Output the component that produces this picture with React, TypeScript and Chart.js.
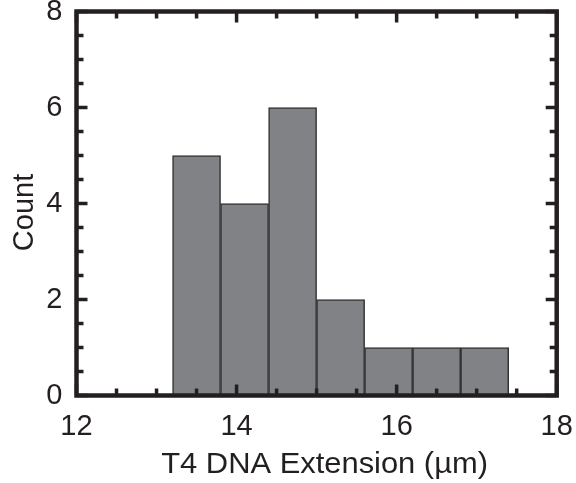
import React, { useEffect, useRef } from "react";
import { Chart, registerables } from "chart.js";

Chart.register(...registerables);

// ---- data ----
const binEdges = [13.2, 13.8, 14.4, 15.0, 15.6, 16.2, 16.8, 17.4];
const counts = [5, 4, 6, 2, 1, 1, 1];
const xTitle = "T4 DNA Extension (µm)";
const yTitle = "Count";
const xMin = 12;
const xMax = 18;
const yMin = 0;
const yMax = 8;
const majorStep = 2;
const minorStep = 0.5;

// ---- style ----
const INK = "#231f20";
const BAR_FILL = "#808285";
const BAR_EDGE = "#333234";
const FONT = "'Liberation Sans', Arial, Helvetica, sans-serif";
const TICK_SIZE = 29;
const TITLE_SIZE = 29;
const TITLE_STRETCH = 1.065;

const framePlugin = {
  id: "frameTicksTitles",
  afterDatasetsDraw(chart: any) {
    const { ctx, chartArea: a, scales } = chart;
    const xs = scales.x;
    const ys = scales.y;
    ctx.save();
    ctx.strokeStyle = INK;
    ctx.lineCap = "butt";
    ctx.lineWidth = 3.5;
    const seg = (x1: number, y1: number, x2: number, y2: number) => {
      ctx.beginPath();
      ctx.moveTo(x1, y1);
      ctx.lineTo(x2, y2);
      ctx.stroke();
    };
    const nx = Math.round((xMax - xMin) / minorStep);
    for (let i = 0; i <= nx; i++) {
      const v = xMin + i * minorStep;
      const major = Math.abs(v / majorStep - Math.round(v / majorStep)) < 1e-6;
      const L = major ? 11 : 7;
      const px = xs.getPixelForValue(v);
      seg(px, a.bottom, px, a.bottom - L);
      seg(px, a.top, px, a.top + L);
    }
    const ny = Math.round((yMax - yMin) / minorStep);
    for (let i = 0; i <= ny; i++) {
      const v = yMin + i * minorStep;
      const major = Math.abs(v / majorStep - Math.round(v / majorStep)) < 1e-6;
      const L = major ? 11 : 7;
      const py = ys.getPixelForValue(v);
      seg(a.left, py, a.left + L, py);
      seg(a.right, py, a.right - L, py);
    }
    ctx.lineWidth = 4.5;
    ctx.strokeRect(a.left, a.top, a.right - a.left, a.bottom - a.top);

    // titles
    ctx.fillStyle = INK;
    ctx.font = `${TITLE_SIZE}px ${FONT}`;
    ctx.textAlign = "center";
    ctx.textBaseline = "alphabetic";
    ctx.save();
    ctx.translate((a.left + a.right) / 2 + 8, chart.height - 10);
    ctx.scale(TITLE_STRETCH, 1);
    ctx.fillText(xTitle, 0, 0);
    ctx.restore();
    ctx.save();
    ctx.translate(33, (a.top + a.bottom) / 2 + 9);
    ctx.rotate(-Math.PI / 2);
    ctx.fillText(yTitle, 0, 0);
    ctx.restore();
    ctx.restore();
  },
};

export default function App() {
  const ref = useRef<HTMLCanvasElement | null>(null);

  useEffect(() => {
    if (!ref.current) return;
    const points = counts.map((c, i) => ({
      x: (binEdges[i] + binEdges[i + 1]) / 2,
      y: c,
    }));
    const chart = new Chart(ref.current, {
      type: "bar",
      data: {
        datasets: [
          {
            data: points as any,
            backgroundColor: BAR_FILL,
            borderColor: BAR_EDGE,
            borderWidth: 1.5,
            borderSkipped: false,
            barPercentage: 1,
            categoryPercentage: 1,
          },
        ],
      },
      options: {
        responsive: false,
        animation: false,
        events: [],
        layout: { padding: { top: 11.5, right: 19.3, left: 0, bottom: 0 } },
        plugins: {
          legend: { display: false },
          tooltip: { enabled: false },
          title: { display: false },
        },
        scales: {
          x: {
            type: "linear",
            min: xMin,
            max: xMax,
            offset: false,
            grid: { display: false, drawTicks: false },
            border: { display: false },
            ticks: {
              stepSize: majorStep,
              padding: 14,
              color: INK,
              font: { family: FONT, size: TICK_SIZE },
              maxRotation: 0,
              autoSkip: false,
            },
            afterFit: (s: any) => {
              s.height = 87.5;
              s.paddingLeft = 0;
              s.paddingRight = 0;
            },
          },
          y: {
            type: "linear",
            min: yMin,
            max: yMax,
            grid: { display: false, drawTicks: false },
            border: { display: false },
            ticks: {
              stepSize: majorStep,
              padding: 14,
              color: INK,
              font: { family: FONT, size: TICK_SIZE },
            },
            afterFit: (s: any) => {
              s.width = 76.5;
              s.paddingTop = 0;
              s.paddingBottom = 0;
            },
          },
        },
      },
      plugins: [framePlugin],
    });
    return () => chart.destroy();
  }, []);

  return (
    <div style={{ position: "fixed", left: 0, top: 0, width: 576, height: 483, background: "#fff" }}>
      <canvas ref={ref} width={576} height={483} style={{ display: "block" }} />
    </div>
  );
}
